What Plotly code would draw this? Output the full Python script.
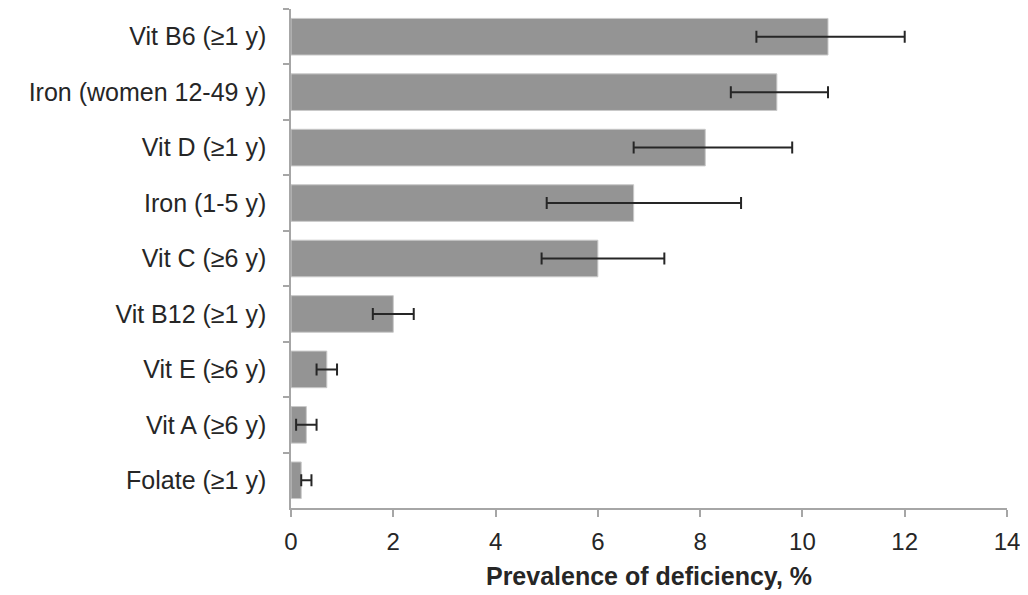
import plotly.graph_objects as go

categories = ["Vit B6 (≥1 y)", "Iron (women 12-49 y)", "Vit D (≥1 y)", "Iron (1-5 y)",
              "Vit C (≥6 y)", "Vit B12 (≥1 y)", "Vit E (≥6 y)", "Vit A (≥6 y)", "Folate (≥1 y)"]
prevalence = [10.5, 9.5, 8.1, 6.7, 6.0, 2.0, 0.7, 0.3, 0.2]
ci_low = [9.1, 8.6, 6.7, 5.0, 4.9, 1.6, 0.5, 0.1, 0.2]
ci_high = [12.0, 10.5, 9.8, 8.8, 7.3, 2.4, 0.9, 0.5, 0.4]
x_ticks = [0, 2, 4, 6, 8, 10, 12, 14]

err_plus = [h - v for h, v in zip(ci_high, prevalence)]
err_minus = [v - l for l, v in zip(ci_low, prevalence)]

fig = go.Figure(go.Bar(
    x=prevalence, y=categories, orientation="h",
    marker=dict(color="#949494", line=dict(color="#c9c9c9", width=1)),
    error_x=dict(type="data", array=err_plus, arrayminus=err_minus,
                 color="#262626", thickness=2, width=6),
))

fig.update_layout(
    width=1020, height=587,
    margin=dict(l=283, r=21, t=1, b=87),
    paper_bgcolor="white", plot_bgcolor="white",
    bargap=0.34, showlegend=False,
    font=dict(family="Liberation Sans, Arial, sans-serif", size=24, color="#262626"),
)
fig.update_xaxes(
    range=[0, 14], tickvals=x_ticks, ticktext=[str(t) for t in x_ticks],
    showgrid=False, zeroline=False, showline=True, linecolor="#a6a6a6", linewidth=1.5,
    ticks="outside", ticklen=7, tickcolor="#a6a6a6", tickwidth=1.5,
    tickfont=dict(size=24), ticklabelstandoff=4,
    title=dict(text="<b>Prevalence of deficiency, %</b>", font=dict(size=25), standoff=14),
)
fig.update_yaxes(
    categoryorder="array", categoryarray=categories, autorange="reversed",
    showgrid=False, zeroline=False, showline=True, linecolor="#a6a6a6", linewidth=1.5,
    ticks="outside", ticklen=6, tickcolor="#a6a6a6", tickwidth=1.5, tickson="boundaries",
    tickfont=dict(size=25), ticklabelstandoff=18,
)

fig.write_html("out.html")
